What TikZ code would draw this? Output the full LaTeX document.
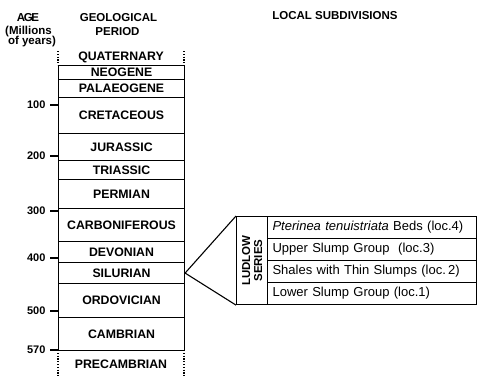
\documentclass[tikz,border=0pt]{standalone}
\usepackage{fontspec}
\setmainfont{Liberation Sans}
\begin{document}
\begin{tikzpicture}[x=1pt,y=-1pt,
  line width=1.1pt,
  period/.style={draw, minimum width=126pt, inner sep=0pt, anchor=north west,
    font=\fontsize{12.3}{14}\selectfont\bfseries},
  freeperiod/.style={inner sep=0pt, font=\fontsize{12.3}{14}\selectfont\bfseries},
  head/.style={inner sep=0pt, font=\fontsize{11.5}{13}\selectfont\bfseries},
  agelabel/.style={inner sep=0pt, anchor=east, font=\fontsize{11}{13}\selectfont\bfseries},
  edge/.style={line width=1.1pt},
  dotline/.style={line width=1.1pt, dash pattern=on 1.2pt off 1.6pt},
  rowbox/.style={draw, anchor=north west, inner ysep=0pt, inner xsep=5pt,
    text width=199pt, minimum height=22pt, align=left,
    font=\fontsize{13}{15}\selectfont},
  ludbox/.style={draw, anchor=north west, inner sep=0pt, minimum width=31pt, minimum height=88pt}
]
\useasboundingbox (0,0) rectangle (477,376);

% headers
\node[head] (hage) at (28,18) {\addfontfeature{LetterSpace=-12}AGE};
\node[head] (hmil) at (28.5,32) {(Millions};
\node[head] (hyrs) at (32,42) {of years)};
\node[head] (hgeo) at (118.5,17.5) {GEOLOGICAL};
\node[head] (hper) at (117.5,31.5) {PERIOD};
\node[head] (hloc) at (335,16) {LOCAL SUBDIVISIONS};

% periods
\node[freeperiod] (qua) at (121,57) {QUATERNARY};
\node[period, minimum height=14pt] (neo) at (58,65) {NEOGENE};
\node[period, minimum height=18pt] (pal) at (58,79) {PALAEOGENE};
\node[period, minimum height=36pt] (cre) at (58,97) {CRETACEOUS};
\node[period, minimum height=27pt] (jur) at (58,133) {JURASSIC};
\node[period, minimum height=19pt] (tri) at (58,160) {TRIASSIC};
\node[period, minimum height=29pt] (per) at (58,179) {PERMIAN};
\node[period, minimum height=33pt] (car) at (58,208) {CARBONIFEROUS};
\node[period, minimum height=21pt] (dev) at (58,241) {DEVONIAN};
\node[period, minimum height=21pt] (sil) at (58,262) {SILURIAN};
\node[period, minimum height=34pt] (ord) at (58,283) {ORDOVICIAN};
\node[period, minimum height=33pt] (cam) at (58,317) {CAMBRIAN};
\node[freeperiod] (pre) at (121,364) {PRECAMBRIAN};

% dotted sides
\draw[dotline] (58,51) -- (58,65);
\draw[dotline] (184,51) -- (184,65);
\draw[dotline] (58,350) -- (58,376);
\draw[dotline] (184,350) -- (184,376);

% age ticks
\node[agelabel] (a100) at (46,105) {100};
\node[agelabel] (a200) at (46,156) {200};
\node[agelabel] (a300) at (46,211) {300};
\node[agelabel] (a400) at (46,258) {400};
\node[agelabel] (a500) at (46,311) {500};
\node[agelabel] (a570) at (46,350) {570};
\foreach \y in {105,156,211,258,311,350} {
  \draw[edge] (50,\y) -- (58,\y);
}

% local subdivisions
\node[ludbox] (lud) at (236,216) {};
\node[inner sep=0pt, rotate=90, align=center,
  font=\fontsize{11.5}{12}\selectfont\bfseries] (ludtxt) at (lud.center) {LUDLOW\\SERIES};
\node[rowbox] (r4) at (267,216) {\textit{Pterinea tenuistriata} Beds (loc.4)};
\node[rowbox] (r3) at (267,238) {Upper Slump Group\ \ (loc.3)};
\node[rowbox] (r2) at (267,260) {Shales with Thin Slumps (loc.\,2)};
\node[rowbox] (r1) at (267,282) {Lower Slump Group (loc.1)};

% expansion triangle
\draw[edge, line join=miter] (lud.north west) -- (sil.east) -- (lud.south west);
\end{tikzpicture}
\end{document}
